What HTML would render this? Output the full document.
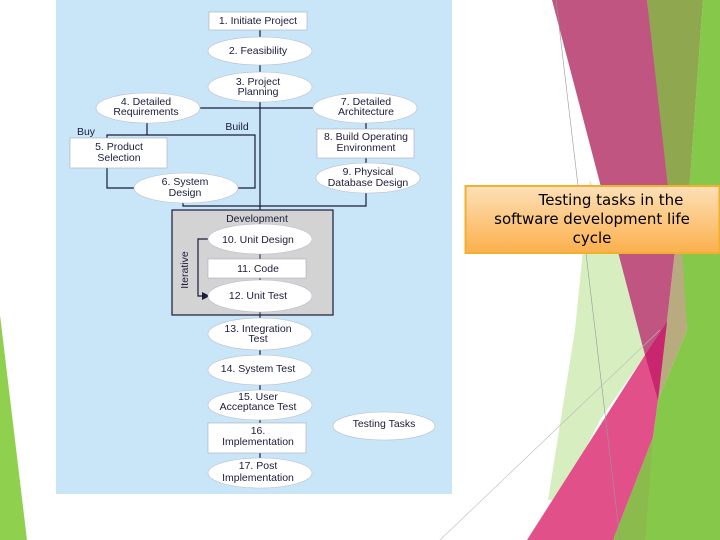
<!DOCTYPE html>
<html><head><meta charset="utf-8"><style>
html,body{margin:0;padding:0;width:720px;height:540px;overflow:hidden;background:#fff}
svg{display:block}
text{font-family:"Liberation Sans",sans-serif;font-size:10.5px;fill:#1c1c3a;text-anchor:middle}
</style></head><body>
<svg width="720" height="540" viewBox="0 0 720 540">
<defs>
<linearGradient id="og" x1="0" y1="0" x2="0" y2="1"><stop offset="0" stop-color="#fde0b8"/><stop offset="1" stop-color="#fbb04c"/></linearGradient>
</defs>
<!-- background decorations -->
<polygon points="0,315 27,540 0,540" fill="#8fd14f"/>
<polygon points="590,180 620,250 645,355 600,420 560,500 548,500 575,330" fill="#d6eec0"/>
<polygon points="703,0 720,0 720,540 613,540 653,437 658,400 687,330 680,250 690,180" fill="#86c84a"/>
<polygon points="647,0 703,0 690,180 680,250 672,250" fill="#8fa84f"/>
<polygon points="675,250 682,250 687,330 658,400" fill="#b8ab80"/>
<polygon points="613,540 653,437 645,540" fill="#8fb050" opacity="0.6"/>
<polygon points="552,0 647,0 675,250 658,400 645,355" fill="#bf5580"/>
<polygon points="645,355 667,322 658,400 653,437 613,540 527,540" fill="#e2508a"/>
<polygon points="645,355 667,322 658,400" fill="#c8266e"/>
<line x1="556" y1="0" x2="620" y2="540" stroke="#999" stroke-width="0.6"/>
<line x1="440" y1="540" x2="660" y2="330" stroke="#bbb" stroke-width="0.6"/>
<!-- caption -->
<rect x="465.5" y="186" width="254" height="67" fill="url(#og)" stroke="#f0b030" stroke-width="2"/>
<text x="611" y="205" style="font-family:'DejaVu Sans',sans-serif;font-size:15px;fill:#000">Testing tasks in the</text>
<text x="592" y="224" style="font-family:'DejaVu Sans',sans-serif;font-size:15px;fill:#000">software development life</text>
<text x="592" y="243" style="font-family:'DejaVu Sans',sans-serif;font-size:15px;fill:#000">cycle</text>
<!-- panel -->
<rect x="56" y="0" width="396" height="494" fill="#c8e6f8"/>
<g stroke="#1c1c3a" stroke-width="1.2" fill="none">
<line x1="260" y1="30" x2="260" y2="488"/>
<line x1="200" y1="108" x2="313" y2="108"/>
<polyline points="147,123 147,135"/>
<polyline points="107,138 107,135 255,135 255,188 237,188"/>
<polyline points="107,168 107,188 135,188"/>
<polyline points="183,203 183,206 366,206 366,193"/>
<line x1="366" y1="123" x2="366" y2="163"/>
</g>
<rect x="172" y="210" width="161" height="105" fill="#d3d3d3" stroke="#1c1c3a" stroke-width="1.2"/>
<line x1="260" y1="224" x2="260" y2="318" stroke="#1c1c3a" stroke-width="1"/>
<polyline points="208,239 198,239 198,296 203,296" fill="none" stroke="#1c1c3a" stroke-width="1.2"/>
<polygon points="210,296 202,292 202,300" fill="#1c1c3a"/>
<text x="188" y="270" transform="rotate(-90 188 270)">Iterative</text>
<text x="257" y="222">Development</text>
<g fill="#fff" stroke="#aab" stroke-width="0.6">
<rect x="209" y="12" width="98" height="18"/>
<rect x="70" y="138" width="97" height="30"/>
<rect x="317" y="129" width="97" height="29"/>
<rect x="208" y="259" width="98" height="19"/>
<rect x="208" y="423" width="98" height="30"/>
</g>
<g fill="#fff" stroke="#bbc" stroke-width="0.6">
<ellipse cx="260" cy="51" rx="52" ry="14"/>
<ellipse cx="260" cy="87" rx="52" ry="15"/>
<ellipse cx="148" cy="108" rx="52" ry="15"/>
<ellipse cx="365" cy="108" rx="52" ry="15"/>
<ellipse cx="186" cy="188" rx="52" ry="15"/>
<ellipse cx="368" cy="178" rx="52" ry="15"/>
<ellipse cx="260" cy="239" rx="52" ry="15"/>
<ellipse cx="260" cy="296" rx="52" ry="16"/>
<ellipse cx="260" cy="334" rx="52" ry="16"/>
<ellipse cx="260" cy="370" rx="52" ry="15"/>
<ellipse cx="260" cy="405" rx="52" ry="15"/>
<ellipse cx="260" cy="473" rx="52" ry="15"/>
<ellipse cx="384" cy="426" rx="51" ry="14"/>
</g>
<text x="258" y="24">1. Initiate Project</text>
<text x="258" y="54">2. Feasibility</text>
<text x="258" y="85">3. Project</text><text x="258" y="95">Planning</text>
<text x="146" y="105">4. Detailed</text><text x="146" y="115">Requirements</text>
<text x="366" y="105">7. Detailed</text><text x="366" y="115">Architecture</text>
<text x="86" y="135">Buy</text>
<text x="237" y="130">Build</text>
<text x="119" y="150">5. Product</text><text x="119" y="161">Selection</text>
<text x="366" y="140">8. Build Operating</text><text x="366" y="151">Environment</text>
<text x="185" y="185">6. System</text><text x="185" y="196">Design</text>
<text x="368" y="175">9. Physical</text><text x="368" y="186">Database Design</text>
<text x="258" y="243">10. Unit Design</text>
<text x="258" y="272">11. Code</text>
<text x="258" y="299">12. Unit Test</text>
<text x="258" y="332">13. Integration</text><text x="258" y="342">Test</text>
<text x="258" y="372">14. System Test</text>
<text x="258" y="400">15. User</text><text x="258" y="410">Acceptance Test</text>
<text x="258" y="434">16.</text><text x="258" y="445">Implementation</text>
<text x="258" y="469">17. Post</text><text x="258" y="481">Implementation</text>
<text x="384" y="427">Testing Tasks</text>
</svg>
</body></html>
